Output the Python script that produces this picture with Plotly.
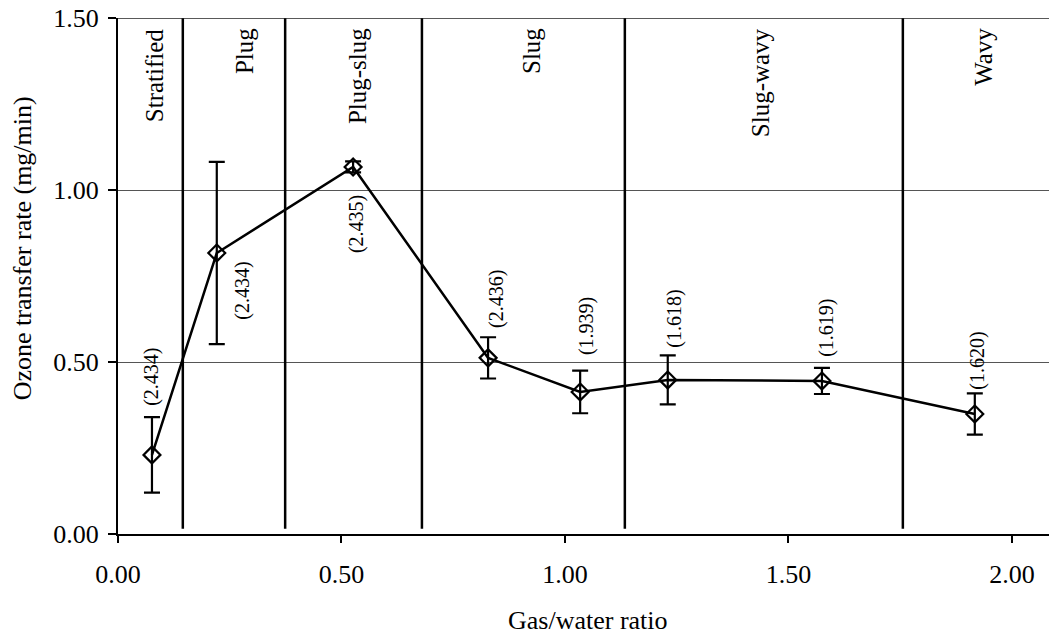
import plotly.graph_objects as go

# Gas/water ratio and measured ozone transfer rate (mg/min)
gas_water_ratio = [0.076, 0.221, 0.526, 0.828, 1.034, 1.230, 1.575, 1.917]
ozone_rate = [0.230, 0.817, 1.067, 0.512, 0.413, 0.448, 0.445, 0.349]
ozone_err = [0.110, 0.265, 0.016, 0.060, 0.062, 0.071, 0.038, 0.060]
point_labels = ["(2.434)", "(2.434)", "(2.435)", "(2.436)",
                "(1.939)", "(1.618)", "(1.619)", "(1.620)"]

# Flow-regime boundaries along the x axis and the regime names
regime_bounds = [0.145, 0.374, 0.680, 1.134, 1.756]
regime_names = ["Stratified", "Plug", "Plug-slug", "Slug", "Slug-wavy", "Wavy"]
regime_label_x = [0.081, 0.282, 0.535, 0.924, 1.438, 1.935]

x_ticks = [0.0, 0.5, 1.0, 1.5, 2.0]
y_ticks = [0.0, 0.5, 1.0, 1.5]

FONT = "Liberation Serif, Times New Roman, serif"
X_MAX = 2.083
Y_MAX = 1.5

# pixel offsets of each value label relative to its point
label_dx = [0, 26, 4, 9, 7, 7, 5, 3]
label_dy = [78, -38, -57, 59, 66, 61, 53, 53]

fig = go.Figure()

fig.add_trace(go.Scatter(
    x=gas_water_ratio,
    y=ozone_rate,
    mode="lines+markers",
    line=dict(color="black", width=2.5),
    marker=dict(symbol="diamond-open", size=13, color="black",
                line=dict(color="black", width=2.2)),
    error_y=dict(type="data", array=ozone_err, visible=True,
                 color="black", thickness=2.2, width=8),
    showlegend=False,
))

shapes = []
# vertical regime separators
for xb in regime_bounds:
    shapes.append(dict(type="line", xref="x", yref="y",
                       x0=xb, x1=xb, y0=0.015, y1=Y_MAX,
                       line=dict(color="black", width=2.5)))
# top border of the plotting area
shapes.append(dict(type="line", xref="paper", yref="y",
                   x0=0, x1=1, y0=Y_MAX, y1=Y_MAX,
                   line=dict(color="#222", width=1.5)))

annotations = []
for name, xc in zip(regime_names, regime_label_x):
    annotations.append(dict(
        x=xc, y=Y_MAX, xref="x", yref="y",
        text=name, textangle=-90, showarrow=False,
        xanchor="center", yanchor="top", yshift=-8,
        font=dict(family=FONT, size=25, color="black"),
    ))

for xv, yv, txt, dx, dy in zip(gas_water_ratio, ozone_rate, point_labels,
                               label_dx, label_dy):
    annotations.append(dict(
        x=xv, y=yv, xref="x", yref="y",
        text=txt, textangle=-90, showarrow=False,
        xanchor="center", yanchor="middle", xshift=dx, yshift=dy,
        font=dict(family=FONT, size=20, color="black"),
    ))

# axis titles
annotations.append(dict(
    x=0.505, y=-0.167, xref="paper", yref="paper",
    text="Gas/water ratio", showarrow=False,
    xanchor="center", yanchor="middle",
    font=dict(family=FONT, size=26, color="black"),
))
annotations.append(dict(
    x=-0.103, y=0.554, xref="paper", yref="paper",
    text="Ozone transfer rate (mg/min)", textangle=-90, showarrow=False,
    xanchor="center", yanchor="middle",
    font=dict(family=FONT, size=26, color="black"),
))

fig.update_layout(
    width=1049, height=637,
    margin=dict(l=118, r=0, t=18, b=103),
    paper_bgcolor="white", plot_bgcolor="white",
    shapes=shapes, annotations=annotations,
    font=dict(family=FONT, color="black"),
)

fig.update_xaxes(
    range=[0, X_MAX], tickvals=x_ticks, tickformat=".2f",
    ticks="outside", ticklen=7, tickwidth=1.5, tickcolor="black",
    showgrid=False, zeroline=False,
    showline=True, linecolor="black", linewidth=2,
    tickfont=dict(family=FONT, size=26, color="black"),
    ticklabelstandoff=9,
)
fig.update_yaxes(
    range=[0, Y_MAX], tickvals=y_ticks, tickformat=".2f",
    ticks="outside", ticklen=8, tickwidth=1.5, tickcolor="black",
    showgrid=True, gridcolor="#555", gridwidth=1, zeroline=False,
    showline=True, linecolor="black", linewidth=2,
    tickfont=dict(family=FONT, size=26, color="black"),
    ticklabelstandoff=4,
)

fig.write_html("out.html")
